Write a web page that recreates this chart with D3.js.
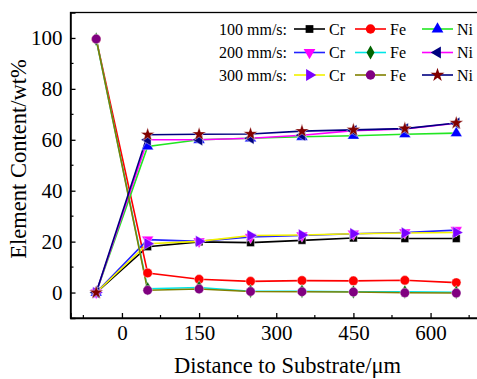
<!DOCTYPE html>
<html><head><meta charset="utf-8">
<script src="https://cdn.jsdelivr.net/npm/d3@7"></script>
<style>html,body{margin:0;padding:0;background:#fff;overflow:hidden}
svg text{font-family:"Liberation Serif","Times New Roman",Times,"DejaVu Serif",serif;}</style>
</head><body>
<svg id="c" width="477" height="379"></svg>
<script>
const distances = [-50, 50, 150, 250, 350, 450, 550, 650];
const cr100 = [0, 18.0, 19.9, 19.6, 20.5, 21.4, 21.2, 21.2];
const fe100 = [99.5, 7.7, 5.2, 4.4, 4.7, 4.6, 4.8, 3.9];
const ni100 = [0, 57.4, 60.0, 60.6, 61.2, 61.6, 62.2, 62.6];
const cr200 = [0, 20.8, 20.1, 21.8, 22.4, 23.1, 23.6, 24.5];
const fe200 = [99.5, 1.5, 2.0, 0.5, 0.5, 0.3, 0.3, 0.1];
const ni200 = [0, 60.0, 60.0, 60.6, 61.8, 63.6, 64.3, 66.5];
const cr300 = [0, 19.2, 20.1, 22.4, 22.6, 23.1, 23.4, 23.6];
const fe300 = [99.6, 0.9, 1.4, 0.4, 0.3, 0.2, -0.1, -0.2];
const ni300 = [0, 62.0, 62.2, 62.3, 63.4, 63.9, 64.4, 66.6];
const xTicks = [0, 150, 300, 450, 600];
const yTicks = [0, 20, 40, 60, 80, 100];
const speedLabels = ["100 mm/s:", "200 mm/s:", "300 mm/s:"];
const elements = ["Cr", "Fe", "Ni"];

const series = [
  {speed:0, el:0, values:cr100, line:"#000000", fill:"#000000", sym:d3.symbolSquare, rot:0, size:60},
  {speed:0, el:1, values:fe100, line:"#ff0000", fill:"#ff0000", sym:d3.symbolCircle, rot:0, size:70},
  {speed:0, el:2, values:ni100, line:"#22e622", fill:"#0000ff", sym:d3.symbolTriangle, rot:0, size:60},
  {speed:1, el:0, values:cr200, line:"#2222ff", fill:"#ff00ff", sym:d3.symbolTriangle, rot:180, size:60},
  {speed:1, el:1, values:fe200, line:"#00e6e6", fill:"#006400", sym:d3.symbolDiamond, rot:0, size:55},
  {speed:1, el:2, values:ni200, line:"#ff00ff", fill:"#000080", sym:d3.symbolTriangle, rot:-90, size:60},
  {speed:2, el:0, values:cr300, line:"#f2f200", fill:"#7b00ff", sym:d3.symbolTriangle, rot:90, size:60},
  {speed:2, el:1, values:fe300, line:"#808000", fill:"#800080", sym:d3.symbolCircle, rot:0, size:70},
  {speed:2, el:2, values:ni300, line:"#000080", fill:"#800000", sym:d3.symbolStar, rot:0, size:60}
];

const svg = d3.select("#c");
const L = 70.5, T = 12.5, B = 318, R = 482;
const x = d3.scaleLinear().domain([-100, 700]).range([L, R]);
const y = d3.scaleLinear().domain([-10, 110]).range([B, T]);

// frame
svg.append("rect").attr("x", L).attr("y", T).attr("width", R - L).attr("height", B - T)
  .attr("fill", "none").attr("stroke", "#000").attr("stroke-width", 1.3);

// x axis
const xMajor = d3.axisBottom(x).tickValues(xTicks).tickSize(-5).tickPadding(7);
const gx = svg.append("g").attr("transform", `translate(0,${B})`).call(xMajor)
  .attr("font-family", null).attr("font-size", null);
gx.select(".domain").attr("stroke-width", 1.5);
gx.selectAll(".tick line").attr("stroke-width", 1.3);
gx.selectAll("text").style("font-size", "21px").attr("fill", "#000");
const xMinorVals = d3.range(-75, 700, 75).filter(v => !xTicks.includes(v));
svg.append("g").selectAll("line").data(xMinorVals).join("line")
  .attr("x1", d => x(d)).attr("x2", d => x(d)).attr("y1", B).attr("y2", B - 3)
  .attr("stroke", "#000").attr("stroke-width", 1.2);

// y axis
const yMajor = d3.axisLeft(y).tickValues(yTicks).tickSize(-5).tickPadding(8);
const gy = svg.append("g").attr("transform", `translate(${L},0)`).call(yMajor)
  .attr("font-family", null).attr("font-size", null);
gy.select(".domain").attr("stroke-width", 1.5);
gy.selectAll(".tick line").attr("stroke-width", 1.3);
gy.selectAll("text").style("font-size", "21px").attr("fill", "#000");
const yMinorVals = d3.range(-10, 111, 10).filter(v => !yTicks.includes(v) && v > -10 && v < 110);
svg.append("g").selectAll("line").data(yMinorVals).join("line")
  .attr("x1", L).attr("x2", L + 3).attr("y1", d => y(d)).attr("y2", d => y(d))
  .attr("stroke", "#000").attr("stroke-width", 1.2);

// titles
svg.append("text").attr("x", 287.5).attr("y", 373).attr("text-anchor", "middle")
  .style("font-size", "22.5px").text("Distance to Substrate/\u03bcm");
svg.append("text").attr("transform", "translate(26,159) rotate(-90)").attr("text-anchor", "middle")
  .style("font-size", "22.5px").text("Element Content/wt%");

// data
const line = d3.line().x((d, i) => x(distances[i])).y(d => y(d));
const plot = svg.append("g");
series.forEach(s => {
  plot.append("path").datum(s.values).attr("d", line)
    .attr("fill", "none").attr("stroke", s.line).attr("stroke-width", 1.6);
});
series.forEach(s => {
  const sym = d3.symbol().type(s.sym).size(s.size);
  plot.append("g").selectAll("path").data(s.values).join("path")
    .attr("d", sym)
    .attr("transform", (d, i) => `translate(${x(distances[i])},${y(d)}) rotate(${s.rot})`)
    .attr("fill", s.fill).attr("stroke", "#fff").attr("stroke-width", 0.4);
});

// legend
const rowsY = [29, 52.5, 75];
const lg = svg.append("g");
speedLabels.forEach((lab, r) => {
  lg.append("text").attr("x", 287).attr("y", rowsY[r] + 5.5).attr("text-anchor", "end")
    .style("font-size", "16px").text(lab);
});
const colX = [294, 355, 422];
series.forEach(s => {
  const cy = rowsY[s.speed], x0 = colX[s.el];
  lg.append("line").attr("x1", x0).attr("x2", x0 + 31).attr("y1", cy).attr("y2", cy)
    .attr("stroke", s.line).attr("stroke-width", 1.6);
  lg.append("path").attr("d", d3.symbol().type(s.sym).size(s.size)())
    .attr("transform", `translate(${x0 + 15.5},${cy}) rotate(${s.rot})`)
    .attr("fill", s.fill);
  lg.append("text").attr("x", x0 + 35).attr("y", cy + 5.5)
    .style("font-size", "16px").text(elements[s.el]);
});
</script>
</body></html>
